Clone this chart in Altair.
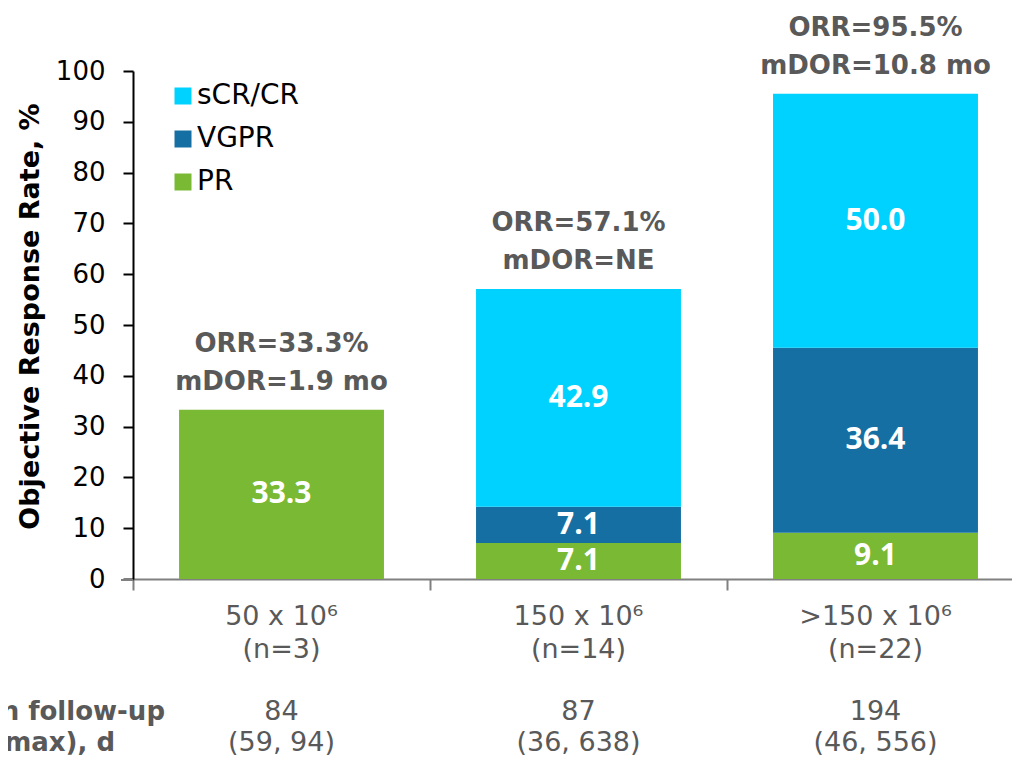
import altair as alt
import pandas as pd

categories = ["50 x 10⁶", "150 x 10⁶", ">150 x 10⁶"]
n_labels = ["(n=3)", "(n=14)", "(n=22)"]
followup_median = ["84", "87", "194"]
followup_range = ["(59, 94)", "(36, 638)", "(46, 556)"]
series = ["sCR/CR", "VGPR", "PR"]
pr = [33.3, 7.1, 9.1]
vgpr = [0.0, 7.1, 36.4]
scr = [0.0, 42.9, 50.0]
orr = [33.3, 57.1, 95.5]
mdor = ["1.9 mo", "NE", "10.8 mo"]
colors = ["#00D2FF", "#166FA2", "#79B933"]

FONT = "DejaVu Sans"
BARFONT = "Open Sans"
GRAY = "#595959"
W, H = 891, 508

rows = []
for i, c in enumerate(categories):
    for s, vals, order in [("PR", pr, 0), ("VGPR", vgpr, 1), ("sCR/CR", scr, 2)]:
        v = vals[i]
        if v > 0:
            rows.append({"cat": c, "series": s, "value": v, "order": order})
df = pd.DataFrame(rows)

info = pd.DataFrame({
    "cat": categories,
    "n": n_labels,
    "med": followup_median,
    "rng": followup_range,
    "orr": orr,
    "orr_txt": [f"ORR={v}%" for v in orr],
    "mdor_txt": [f"mDOR={m}" for m in mdor],
})

xscale = alt.Scale(domain=categories, paddingInner=0, paddingOuter=0)
yscale = alt.Scale(domain=[0, 100], nice=False)

x_enc = alt.X("cat:N", scale=xscale, sort=categories,
              axis=alt.Axis(labels=False, title=None, tickBand="extent", tickSize=11,
                            domainColor="#808080", tickColor="#808080",
                            domainWidth=2, tickWidth=2))

bars = alt.Chart(df).mark_bar(width=alt.RelativeBandSize(0.69)).encode(
    x=x_enc,
    y=alt.Y("sum(value):Q", stack="zero", scale=yscale,
            axis=alt.Axis(values=list(range(0, 101, 10)), tickSize=10, tickWidth=2,
                          domainWidth=2, domainColor="black", tickColor="black",
                          labelFontSize=26, labelColor="black", labelPadding=18,
                          labelFont=FONT, grid=False,
                          title="Objective Response Rate, %", titleFontSize=27,
                          titleFont=FONT, titleFontWeight="bold", titleColor="black",
                          titleAngle=-90, titleX=-103, titleY=H / 2 - 9,
                          titleAlign="center", titleBaseline="middle")),
    color=alt.Color("series:N", scale=alt.Scale(domain=series, range=colors),
                    legend=alt.Legend(title=None, orient="none", legendX=36, legendY=11,
                                      symbolType="square", symbolSize=289,
                                      symbolStrokeWidth=0, labelFontSize=28,
                                      labelFont=FONT, labelColor="black",
                                      rowPadding=15, labelOffset=0)),
    order=alt.Order("order:Q"),
)

seg_labels = alt.Chart(df).mark_text(
    color="white", fontWeight="bold", fontSize=30, font=BARFONT, baseline="middle"
).encode(
    x=alt.X("cat:N", scale=xscale, sort=categories),
    y=alt.Y("mid:Q", scale=yscale),
    text=alt.Text("value:Q", format=".1f"),
).transform_window(
    cum="sum(value)", groupby=["cat"], sort=[alt.SortField("order")]
).transform_calculate(mid="datum.cum - datum.value / 2")

ann1 = alt.Chart(info).mark_text(
    color=GRAY, fontWeight="bold", fontSize=26, font=FONT, baseline="middle", dy=-66
).encode(x=alt.X("cat:N", scale=xscale, sort=categories),
         y=alt.Y("orr:Q", scale=yscale), text="orr_txt:N")
ann2 = alt.Chart(info).mark_text(
    color=GRAY, fontWeight="bold", fontSize=26, font=FONT, baseline="middle", dy=-28
).encode(x=alt.X("cat:N", scale=xscale, sort=categories),
         y=alt.Y("orr:Q", scale=yscale), text="mdor_txt:N")

def below(field, offset):
    return alt.Chart(info).mark_text(
        color=GRAY, fontSize=27, font=FONT, baseline="middle"
    ).encode(x=alt.X("cat:N", scale=xscale, sort=categories),
             y=alt.value(H + offset), text=f"{field}:N")

cat_lbl = below("cat", 38)
n_lbl = below("n", 71)
med_lbl = below("med", 133)
rng_lbl = below("rng", 164)

left_df = pd.DataFrame({"t": ["Median follow-up", "(min, max), d"],
                        "xx": [32, -18], "yy": [H + 133, H + 164]})
left_lbl = alt.Chart(left_df).mark_text(
    color=GRAY, fontSize=26, font=FONT, fontWeight="bold", baseline="middle", align="right"
).encode(x=alt.X("xx:Q", scale=None), y=alt.Y("yy:Q", scale=None), text="t:N")

ext = alt.Chart(pd.DataFrame({"a": [0]})).mark_rule(color="#808080", strokeWidth=2).encode(
    x=alt.value(-12), x2=alt.value(0), y=alt.value(H + 1))

chart = alt.layer(
    bars, seg_labels, ann1, ann2, cat_lbl, n_lbl, med_lbl, rng_lbl, left_lbl, ext
).properties(
    width=W, height=H,
    autosize=alt.AutoSizeParams(type="none"),
    padding={"left": 125, "top": 63, "right": -12, "bottom": 177},
).configure_view(stroke=None, clip=False)

chart.save("out.html", embed_options={"renderer": "svg", "actions": False})
